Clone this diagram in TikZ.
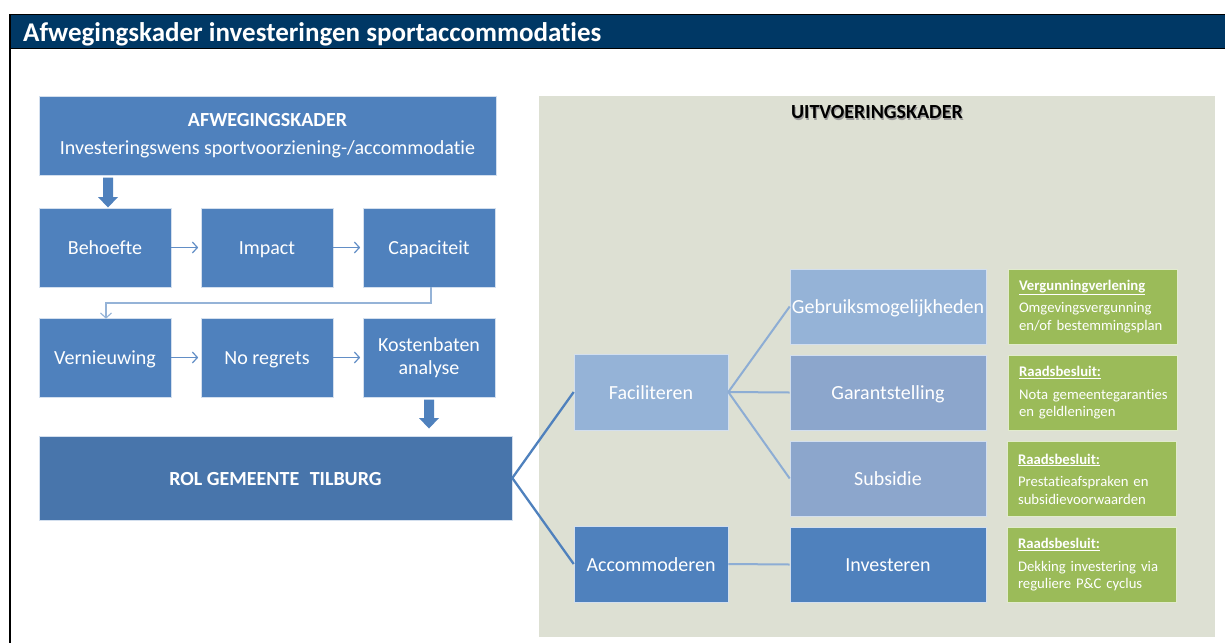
\documentclass[tikz,border=0pt]{standalone}
\usepackage{fontspec}
\setmainfont{Carlito}[Ligatures=NoCommon]
\usetikzlibrary{arrows.meta}
\definecolor{navy}{RGB}{0,56,101}
\definecolor{bblue}{RGB}{79,129,189}
\definecolor{dblue}{RGB}{72,117,171}
\definecolor{lblue}{RGB}{149,179,215}
\definecolor{mblue}{RGB}{140,166,204}
\definecolor{panelc}{RGB}{221,224,211}
\definecolor{greenc}{RGB}{155,187,89}
\definecolor{connc}{RGB}{141,173,212}
\definecolor{arrc}{RGB}{98,142,198}
\begin{document}
\begin{tikzpicture}[x=1pt,y=-1pt,
  box/.style={rectangle, draw=white!75!bblue, line width=0.6pt, fill=bblue, text=white, inner sep=0pt, align=center, font=\fontsize{20}{23}\selectfont},
  oneline/.style={text height=18pt, text depth=4pt},
  smallbox/.style={box, minimum width=132, minimum height=79},
  uitbox/.style={box, oneline, minimum width=196, minimum height=75},
  rolbox/.style={box, oneline, minimum width=154, minimum height=76},
  greenbox/.style={rectangle, draw=white!70!greenc, line width=0.6pt, fill=greenc, text=white, minimum width=169, minimum height=75, text width=147, inner xsep=11, align=left, font=\fontsize{14.7}{17.5}\selectfont},
  thinarrow/.style={draw=arrc, line width=1.2pt, -{Straight Barb[length=5pt,width=11pt]}},
  rolline/.style={draw=bblue, line width=2.3pt},
  facline/.style={draw=connc, line width=2pt},
  blockarrow/.style={fill=bblue, draw=none}
]
\useasboundingbox (0,0) rectangle (1225,643);
\fill[white] (0,0) rectangle (1225,643);
% frame and title bar
\fill[navy] (9,14) rectangle (1225,49);
\draw[black, line width=1.2pt] (9,14.5) -- (1225,14.5);
\draw[black, line width=1.6pt] (9,48.5) -- (1225,48.5);
\draw[black, line width=1.6pt] (10,14) -- (10,643);
\node[anchor=base west, text=white, inner sep=0pt, font=\fontsize{27}{30}\selectfont\bfseries] (title) at (23,41) {Afwegingskader investeringen sportaccommodaties};

% uitvoeringskader panel
\fill[panelc] (539,96) rectangle (1215,637);
\node[text=black!40, font=\fontsize{20}{23}\selectfont\bfseries, inner sep=0pt] at (878,114) {UITVOERINGSKADER};
\node[text=black, font=\fontsize{20}{23}\selectfont\bfseries, inner sep=0pt] (uitv) at (877,112.5) {UITVOERINGSKADER};

% left column
\node[box, minimum width=457, minimum height=79] (afw) at (267.5,135.5) {};
\node[text=white, font=\fontsize{20}{23}\selectfont\bfseries, inner sep=0pt] (afwt) at (267.5,120) {AFWEGINGSKADER};
\node[text=white, font=\fontsize{20}{23}\selectfont, inner sep=0pt] (afws) at (267.5,149.5) {Investeringswens sportvoorziening-/accommodatie};

\node[smallbox, oneline] (beh) at (105,247.5) {Behoefte};
\node[smallbox, oneline] (imp) at (267,247.5) {Impact};
\node[smallbox, oneline] (cap) at (429,247.5) {Capaciteit};
\node[smallbox, oneline] (ver) at (105,357.5) {Vernieuwing};
\node[smallbox, oneline] (nor) at (267,357.5) {No regrets};
\node[smallbox] (kos) at (429,357.5) {Kostenbaten\\analyse};
\node[box, oneline, fill=dblue, minimum width=473, minimum height=84, font=\fontsize{20}{23}\selectfont\bfseries] (rol) at (275.5,478) {ROL GEMEENTE\hspace{0.3em} TILBURG};

% block arrows
\filldraw[blockarrow] (103,177.5) -- (113,177.5) -- (113,197) -- (118,197) -- (108,207.5) -- (98,197) -- (103,197) -- cycle;
\filldraw[blockarrow] (424,399.5) -- (434,399.5) -- (434,418) -- (439,418) -- (429,428.5) -- (419,418) -- (424,418) -- cycle;

% thin arrows
\draw[thinarrow, shorten >=2.5pt] (beh.east) -- (imp.west);
\draw[thinarrow, shorten >=2.5pt] (imp.east) -- (cap.west);
\draw[thinarrow, shorten >=2.5pt] (nor.west -| ver.east) -- (nor.west);
\draw[thinarrow, shorten >=2.5pt] (kos.west -| nor.east) -- (kos.west);
\coordinate (c1) at ([xshift=2pt]cap.south);
\coordinate (c2) at ([xshift=1pt]ver.north);
\draw[thinarrow, draw=lblue, line width=1.1pt] (c1) -- (c1 |- 0,303) -- (c2 |- 0,303) -- ([yshift=-1pt]c2);

% right tree
\node[rolbox, fill=lblue] (fac) at (651,392) {Faciliteren};
\node[rolbox] (acc) at (651,564) {Accommoderen};
\node[uitbox, fill=lblue] (geb) at (888,306.5) {Gebruiksmogelijkheden};
\node[uitbox, fill=mblue] (gar) at (888,392.5) {Garantstelling};
\node[uitbox, fill=mblue] (sub) at (888,478.5) {Subsidie};
\node[uitbox] (inv) at (888,564.5) {Investeren};

\draw[rolline] (rol.east) -- (fac.west);
\draw[rolline] (rol.east) -- (acc.west);
\draw[facline] (fac.east) -- (geb.west);
\draw[facline] (fac.east) -- (gar.west);
\draw[facline] (fac.east) -- (sub.west);
\draw[facline] (acc.east) -- (inv.west);

\node[greenbox] (g1) at (1092.5,306.5) {\textbf{\underline{Vergunningverlening}}\\[5pt]\mbox{Omgevingsvergunning}\\\mbox{en/of bestemmingsplan}};
\node[greenbox] (g2) at (1092.5,393) {\textbf{\underline{Raadsbesluit:}}\\[5pt]\mbox{Nota gemeentegaranties}\\\mbox{en geldleningen}};
\node[greenbox] (g3) at (1091.5,479) {\textbf{\underline{Raadsbesluit:}}\\[5pt]\mbox{Prestatieafspraken en}\\\mbox{subsidievoorwaarden}};
\node[greenbox] (g4) at (1091.5,565) {\textbf{\underline{Raadsbesluit:}}\\[5pt]\mbox{Dekking investering via}\\\mbox{reguliere P\&C cyclus}};
\end{tikzpicture}
\end{document}
